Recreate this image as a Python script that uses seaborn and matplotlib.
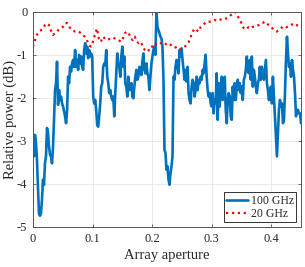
import numpy as np
import pandas as pd
import matplotlib
matplotlib.use("Agg")
import matplotlib.pyplot as plt
import seaborn as sns

# ---- data ----
power_100ghz = [
    -3.13, -3.36, -2.86, -3.05, -3.44, -4.06, -4.68, -4.74, -4.68, -4.37,
    -3.90, -4.02, -3.52, -3.36, -2.70, -2.82, -3.13, -3.32, -3.36, -3.52,
    -3.13, -2.51, -1.82, -1.66, -1.16, -2.16, -1.82, -2.05, -1.97, -2.13,
    -2.20, -2.32, -2.43, -2.59, -2.28, -1.51, -1.66, -1.28, -1.39, -1.20,
    -1.12, -1.28, -0.89, -1.28, -1.12, -1.35, -1.00, -1.20, -1.04, -1.28,
    -1.35, -0.89, -0.73, -0.97, -0.81, -1.08, -0.89, -1.04, -0.97, -1.04,
    -1.97, -2.13, -2.05, -2.28, -2.63, -2.67, -2.43, -2.13, -1.74, -1.66,
    -1.28, -1.20, -1.24, -0.89, -1.51, -1.66, -1.89, -1.82, -1.97, -2.05,
    -1.97, -2.43, -1.89, -1.43, -0.97, -1.20, -1.28, -1.51, -1.04, -0.81,
    -1.28, -1.04, -1.66, -1.74, -1.97, -1.51, -1.82, -1.74, -1.66, -1.97,
    -2.01, -1.74, -1.51, -1.35, -1.58, -1.51, -1.28, -1.35, -1.47, -1.16,
    -0.97, -1.35, -1.43, -1.20, -1.43, -1.51, -1.82, -1.51, -1.20, -1.04,
    -0.89, -0.81, -1.00, 0.00, -0.35, -0.43, -0.50, -0.58, -0.62, -0.81,
    -1.58, -3.21, -3.28, -3.67, -3.59, -3.90, -4.02, -3.75, -3.59, -3.36,
    -1.51, -1.58, -1.28, -1.12, -1.20, -1.43, -0.89, -1.04, -0.85, -1.12,
    -1.35, -1.58, -1.35, -1.62, -1.28, -1.89, -2.05, -2.13, -1.74, -1.58,
    -1.66, -1.97, -1.82, -1.51, -1.82, -1.58, -1.66, -1.51, -1.58, -1.35,
    -1.43, -1.20, -1.00, -1.51, -1.82, -1.97, -1.89, -2.13, -2.20, -1.89,
    -2.36, -2.05, -2.13, -1.43, -2.51, -1.66, -2.20, -1.74, -1.51, -2.05,
    -1.97, -1.51, -2.28, -2.59, -2.05, -1.89, -1.97, -2.43, -2.51, -1.74,
    -2.05, -1.66, -2.05, -1.74, -1.58, -1.82, -1.66, -1.89, -1.74, -2.05,
    -1.58, -1.51, -1.35, -1.04, -1.35, -1.43, -1.12, -1.58, -1.04, -1.74,
    -1.35, -1.51, -1.74, -1.89, -1.66, -1.58, -1.28, -1.58, -1.28, -1.43,
    -1.58, -1.35, -1.12, -1.66, -1.82, -2.05, -1.97, -1.74, -2.13, -1.51,
    -1.97, -2.43, -2.90, -3.36, -2.82, -2.28, -2.05, -2.20, -2.13, -2.59,
    -2.51, -1.89, -1.12, -0.58, -0.97, -1.28, -1.20, -1.51, -1.12, -1.35,
    -1.51, -1.89, -2.43, -2.28, -2.28, -2.36, -2.36, -2.59,
]
power_20ghz = [
    -0.81, -0.66, -0.54, -0.46, -0.43, -0.39, -0.31, -0.27, -0.31, -0.43,
    -0.54, -0.50, -0.46, -0.41, -0.39, -0.35, -0.27, -0.26, -0.33, -0.41,
    -0.43, -0.46, -0.46, -0.46, -0.50, -0.54, -0.58, -0.66, -0.77, -0.81,
    -0.70, -0.54, -0.39, -0.62, -0.70, -0.58, -0.62, -0.66, -0.64, -0.62,
    -0.60, -0.62, -0.64, -0.66, -0.70, -0.62, -0.50, -0.46, -0.50, -0.62,
    -0.66, -0.58, -0.70, -0.73, -0.70, -0.81, -0.89, -0.93, -0.89, -0.89,
    -0.77, -0.73, -0.77, -0.77, -0.73, -0.73, -0.77, -0.73, -0.73, -0.77,
    -0.81, -0.81, -0.85, -0.89, -0.87, -0.85, -0.81, -0.77, -0.70, -0.58,
    -0.46, -0.39, -0.43, -0.46, -0.35, -0.31, -0.27, -0.23, -0.23, -0.23,
    -0.22, -0.19, -0.21, -0.19, -0.18, -0.19, -0.18, -0.15, -0.12, -0.08,
    -0.04, 0.00, -0.04, -0.15, -0.23, -0.35, -0.41, -0.39, -0.36, -0.39,
    -0.35, -0.35, -0.33, -0.31, -0.27, -0.26, -0.23, -0.27, -0.31, -0.35,
    -0.39, -0.43, -0.46, -0.43, -0.39, -0.35, -0.33, -0.36, -0.33, -0.31,
    -0.29, -0.27, -0.31, -0.33,
]
aperture_100 = np.linspace(0.0, 0.45, len(power_100ghz))
aperture_20 = np.linspace(0.0, 0.446, len(power_20ghz))
series_labels = ["100 GHz", "20 GHz"]
x_ticks = [0, 0.1, 0.2, 0.3, 0.4]
x_tick_labels = ["0", "0.1", "0.2", "0.3", "0.4"]
y_ticks = [0, -1, -2, -3, -4, -5]
y_tick_labels = ["0", "-1", "-2", "-3", "-4", "-5"]

# ---- style ----
sns.set_theme(style="whitegrid")
plt.rcParams["font.family"] = ["Liberation Serif", "DejaVu Serif"]
plt.rcParams["axes.unicode_minus"] = False

df100 = pd.DataFrame({"aperture": aperture_100, "power": power_100ghz})
df20 = pd.DataFrame({"aperture": aperture_20, "power": power_20ghz})

fig = plt.figure(figsize=(3.05, 2.67), dpi=100)
ax = fig.add_axes([0.108, 0.150, 0.879, 0.806])

sns.lineplot(data=df100, x="aperture", y="power", ax=ax, color="#0072BD",
             linewidth=1.9, label=series_labels[0])
sns.lineplot(data=df20, x="aperture", y="power", ax=ax, color="#FF0000",
             linewidth=1.6, linestyle=":", label=series_labels[1])

ax.set_xlim(0, 0.45)
ax.set_ylim(-5, 0)
ax.set_xticks(x_ticks)
ax.set_xticklabels(x_tick_labels)
ax.set_yticks(y_ticks)
ax.set_yticklabels(y_tick_labels)
ax.set_xlabel("Array aperture", fontsize=10.5, color="#262626", labelpad=3)
ax.set_ylabel("Relative power (dB)", fontsize=10.5, color="#262626", labelpad=0)

ax.set_facecolor("white")
ax.grid(True, color="#e6e6e6", linewidth=0.6)
for s in ax.spines.values():
    s.set_visible(True)
    s.set_color("#555555")
    s.set_linewidth(0.7)
ax.tick_params(axis="both", direction="in", length=2.5, width=0.6,
               colors="#555555", labelcolor="#262626", labelsize=9, pad=4)
ax.tick_params(top=True, right=True, bottom=True, left=True)

leg = ax.legend(loc="lower right", fontsize=8.5, frameon=True, fancybox=False,
                borderpad=0.2, handlelength=1.9, handletextpad=0.2,
                labelspacing=0.1, borderaxespad=0.4)
leg.get_frame().set_edgecolor("#333333")
leg.get_frame().set_linewidth(0.7)
leg.get_frame().set_alpha(1.0)

fig.savefig("out.png", dpi=100)
